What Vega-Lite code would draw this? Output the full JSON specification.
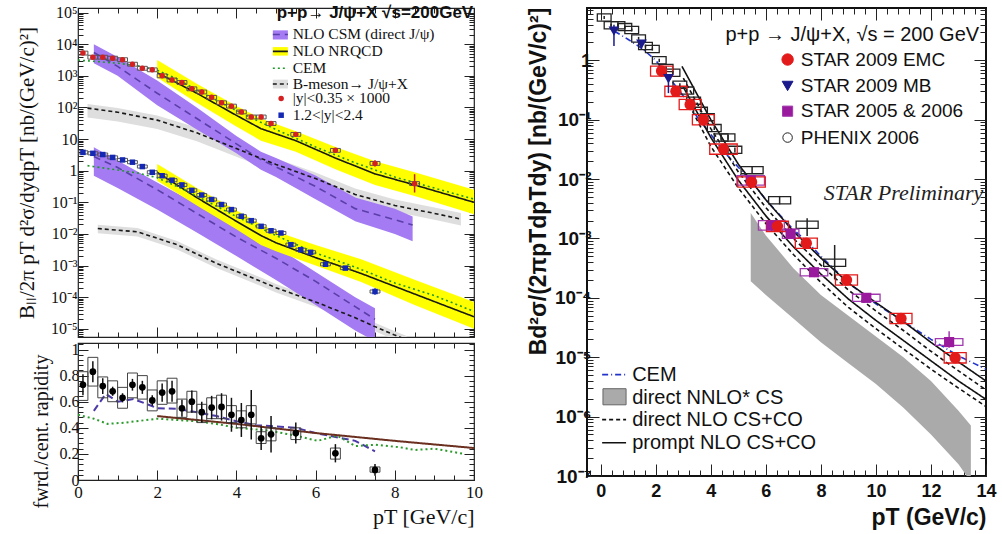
{
"$schema": "https://vega.github.io/schema/vega-lite/v6.json",
"background": "white",
"padding": {"left": 15, "top": 0, "right": 0, "bottom": 0},
"datasets": {
"lt_pts": [
{"s":"c","x":0.125,"v":5250,"el":4860,"eh":5670,"sl":4570,"sh":6040,"xl":0,"xh":0.25},
{"s":"c","x":0.375,"v":3890,"el":3600,"eh":4200,"sl":3380,"sh":4470,"xl":0.25,"xh":0.5},
{"s":"c","x":0.625,"v":3890,"el":3600,"eh":4200,"sl":3380,"sh":4470,"xl":0.5,"xh":0.75},
{"s":"c","x":0.875,"v":3630,"el":3360,"eh":3920,"sl":3160,"sh":4170,"xl":0.75,"xh":1.0},
{"s":"c","x":1.125,"v":3240,"el":3000,"eh":3500,"sl":2820,"sh":3730,"xl":1.0,"xh":1.25},
{"s":"c","x":1.375,"v":2340,"el":2170,"eh":2530,"sl":2030,"sh":2690,"xl":1.25,"xh":1.5},
{"s":"c","x":1.625,"v":1740,"el":1610,"eh":1880,"sl":1510,"sh":2000,"xl":1.5,"xh":1.75},
{"s":"c","x":1.875,"v":1550,"el":1440,"eh":1670,"sl":1350,"sh":1780,"xl":1.75,"xh":2.0},
{"s":"c","x":2.125,"v":1000,"el":926,"eh":1080,"sl":870,"sh":1150,"xl":2.0,"xh":2.25},
{"s":"c","x":2.375,"v":741,"el":686,"eh":800,"sl":644,"sh":852,"xl":2.25,"xh":2.5},
{"s":"c","x":2.625,"v":617,"el":571,"eh":666,"sl":537,"sh":710,"xl":2.5,"xh":2.75},
{"s":"c","x":2.875,"v":389,"el":360,"eh":420,"sl":338,"sh":447,"xl":2.75,"xh":3.0},
{"s":"c","x":3.125,"v":309,"el":286,"eh":334,"sl":269,"sh":355,"xl":3.0,"xh":3.25},
{"s":"c","x":3.375,"v":209,"el":194,"eh":226,"sl":182,"sh":240,"xl":3.25,"xh":3.5},
{"s":"c","x":3.625,"v":141,"el":130,"eh":152,"sl":123,"sh":162,"xl":3.5,"xh":3.75},
{"s":"c","x":3.875,"v":110,"el":102,"eh":119,"sl":96,"sh":127,"xl":3.75,"xh":4.0},
{"s":"c","x":4.125,"v":72,"el":66,"eh":78,"sl":63,"sh":83,"xl":4.0,"xh":4.25},
{"s":"c","x":4.375,"v":50,"el":45,"eh":55,"sl":43.5,"sh":57.5,"xl":4.25,"xh":4.5},
{"s":"c","x":4.625,"v":50,"el":45,"eh":56,"sl":43.5,"sh":57.5,"xl":4.5,"xh":4.75},
{"s":"c","x":4.875,"v":31,"el":27.5,"eh":35,"sl":27,"sh":35.7,"xl":4.75,"xh":5.0},
{"s":"c","x":5.5,"v":14.1,"el":12.2,"eh":16.2,"sl":12.3,"sh":16.2,"xl":5.375,"xh":5.625},
{"s":"c","x":6.5,"v":4.4,"el":3.75,"eh":5.2,"sl":3.83,"sh":5.06,"xl":6.375,"xh":6.625},
{"s":"c","x":7.5,"v":1.7,"el":1.35,"eh":2.15,"sl":1.48,"sh":1.96,"xl":7.375,"xh":7.625},
{"s":"c","x":8.5,"v":0.39,"el":0.204,"eh":0.776,"sl":0.34,"sh":0.45,"xl":8.375,"xh":8.625},
{"s":"f","x":0.125,"v":3.80,"el":3.62,"eh":3.99,"sl":3.39,"sh":4.26,"xl":0,"xh":0.25},
{"s":"f","x":0.375,"v":3.55,"el":3.38,"eh":3.73,"sl":3.17,"sh":3.98,"xl":0.25,"xh":0.5},
{"s":"f","x":0.625,"v":3.24,"el":3.09,"eh":3.40,"sl":2.89,"sh":3.63,"xl":0.5,"xh":0.75},
{"s":"f","x":0.875,"v":2.63,"el":2.5,"eh":2.76,"sl":2.35,"sh":2.95,"xl":0.75,"xh":1.0},
{"s":"f","x":1.125,"v":2.19,"el":2.09,"eh":2.3,"sl":1.96,"sh":2.45,"xl":1.0,"xh":1.25},
{"s":"f","x":1.375,"v":1.86,"el":1.77,"eh":1.95,"sl":1.66,"sh":2.08,"xl":1.25,"xh":1.5},
{"s":"f","x":1.625,"v":1.35,"el":1.29,"eh":1.42,"sl":1.21,"sh":1.51,"xl":1.5,"xh":1.75},
{"s":"f","x":1.875,"v":0.891,"el":0.849,"eh":0.936,"sl":0.796,"sh":0.998,"xl":1.75,"xh":2.0},
{"s":"f","x":2.125,"v":0.692,"el":0.659,"eh":0.727,"sl":0.618,"sh":0.775,"xl":2.0,"xh":2.25},
{"s":"f","x":2.375,"v":0.501,"el":0.477,"eh":0.526,"sl":0.447,"sh":0.561,"xl":2.25,"xh":2.5},
{"s":"f","x":2.625,"v":0.355,"el":0.338,"eh":0.373,"sl":0.317,"sh":0.398,"xl":2.5,"xh":2.75},
{"s":"f","x":2.875,"v":0.240,"el":0.229,"eh":0.252,"sl":0.214,"sh":0.269,"xl":2.75,"xh":3.0},
{"s":"f","x":3.125,"v":0.170,"el":0.162,"eh":0.179,"sl":0.152,"sh":0.190,"xl":3.0,"xh":3.25},
{"s":"f","x":3.375,"v":0.123,"el":0.117,"eh":0.129,"sl":0.110,"sh":0.138,"xl":3.25,"xh":3.5},
{"s":"f","x":3.625,"v":0.0851,"el":0.081,"eh":0.0894,"sl":0.076,"sh":0.0953,"xl":3.5,"xh":3.75},
{"s":"f","x":3.875,"v":0.0589,"el":0.0561,"eh":0.0618,"sl":0.0526,"sh":0.066,"xl":3.75,"xh":4.0},
{"s":"f","x":4.125,"v":0.0363,"el":0.0346,"eh":0.0381,"sl":0.0324,"sh":0.0407,"xl":4.0,"xh":4.25},
{"s":"f","x":4.375,"v":0.0263,"el":0.025,"eh":0.0276,"sl":0.0235,"sh":0.0295,"xl":4.25,"xh":4.5},
{"s":"f","x":4.625,"v":0.0174,"el":0.0166,"eh":0.0183,"sl":0.0155,"sh":0.0195,"xl":4.5,"xh":4.75},
{"s":"f","x":4.875,"v":0.0126,"el":0.012,"eh":0.0132,"sl":0.0113,"sh":0.0141,"xl":4.75,"xh":5.0},
{"s":"f","x":5.125,"v":0.0107,"el":0.0102,"eh":0.0112,"sl":0.0096,"sh":0.012,"xl":5.0,"xh":5.25},
{"s":"f","x":5.375,"v":0.00457,"el":0.00435,"eh":0.0048,"sl":0.00408,"sh":0.00512,"xl":5.25,"xh":5.5},
{"s":"f","x":5.625,"v":0.00316,"el":0.003,"eh":0.00332,"sl":0.00282,"sh":0.00354,"xl":5.5,"xh":5.75},
{"s":"f","x":5.875,"v":0.00263,"el":0.0025,"eh":0.00276,"sl":0.00235,"sh":0.00295,"xl":5.75,"xh":6.0},
{"s":"f","x":6.25,"v":0.0011,"el":0.00101,"eh":0.0012,"sl":0.00098,"sh":0.00123,"xl":6.125,"xh":6.375},
{"s":"f","x":6.75,"v":0.000832,"el":0.00076,"eh":0.00091,"sl":0.000743,"sh":0.000932,"xl":6.625,"xh":6.875},
{"s":"f","x":7.5,"v":0.000151,"el":0.00012,"eh":0.00019,"sl":0.000135,"sh":0.000169,"xl":7.375,"xh":7.625}
],
"lt_bands": [
{"k":"bmeson","b":"bc","x":0.24,"lo":47.9,"hi":129},{"k":"bmeson","b":"bc","x":1,"lo":36.3,"hi":95.5},{"k":"bmeson","b":"bc","x":2,"lo":20.9,"hi":56.2},{"k":"bmeson","b":"bc","x":3,"lo":8.51,"hi":23.4},{"k":"bmeson","b":"bc","x":4,"lo":2.75,"hi":7.59},{"k":"bmeson","b":"bc","x":5,"lo":0.891,"hi":2.45},{"k":"bmeson","b":"bc","x":6,"lo":0.339,"hi":0.871},{"k":"bmeson","b":"bc","x":7,"lo":0.11,"hi":0.275},{"k":"bmeson","b":"bc","x":8,"lo":0.0501,"hi":0.123},{"k":"bmeson","b":"bc","x":9,"lo":0.0282,"hi":0.0692},{"k":"bmeson","b":"bc","x":9.67,"lo":0.0186,"hi":0.0457},
{"k":"bmeson","b":"bf","x":0.5,"lo":0.0105,"hi":0.0195},{"k":"bmeson","b":"bf","x":1.5,"lo":0.00832,"hi":0.0155},{"k":"bmeson","b":"bf","x":2.5,"lo":0.00324,"hi":0.00603},{"k":"bmeson","b":"bf","x":3.5,"lo":0.000832,"hi":0.00155},{"k":"bmeson","b":"bf","x":4.62,"lo":0.000224,"hi":0.000417},{"k":"bmeson","b":"bf","x":5,"lo":0.000141,"hi":0.000263},{"k":"bmeson","b":"bf","x":6,"lo":0.0000501,"hi":0.0000933},{"k":"bmeson","b":"bf","x":7,"lo":0.0000158,"hi":0.0000295},{"k":"bmeson","b":"bf","x":7.5,"lo":0.00000832,"hi":0.0000155},{"k":"bmeson","b":"bf","x":8,"lo":0.00000447,"hi":0.00000832},{"k":"bmeson","b":"bf","x":8.3,"lo":0.00000316,"hi":0.00000589},
{"k":"csm","b":"cc","x":0.4,"lo":2512,"hi":10000},{"k":"csm","b":"cc","x":1,"lo":1000,"hi":3981},{"k":"csm","b":"cc","x":2,"lo":117,"hi":708},{"k":"csm","b":"cc","x":3,"lo":20,"hi":100},{"k":"csm","b":"cc","x":4,"lo":3.55,"hi":12.6},{"k":"csm","b":"cc","x":4.62,"lo":1.07,"hi":3.98},{"k":"csm","b":"cc","x":5,"lo":0.631,"hi":2.51},{"k":"csm","b":"cc","x":6,"lo":0.126,"hi":0.708},{"k":"csm","b":"cc","x":7,"lo":0.0251,"hi":0.141},{"k":"csm","b":"cc","x":8,"lo":0.01,"hi":0.0631},{"k":"csm","b":"cc","x":8.45,"lo":0.00589,"hi":0.0355},
{"k":"csm","b":"cf","x":0.4,"lo":0.692,"hi":5.5},{"k":"csm","b":"cf","x":1,"lo":0.282,"hi":2.09},{"k":"csm","b":"cf","x":2,"lo":0.0589,"hi":0.427},{"k":"csm","b":"cf","x":3,"lo":0.0112,"hi":0.0891},{"k":"csm","b":"cf","x":4,"lo":0.002,"hi":0.02},{"k":"csm","b":"cf","x":5,"lo":0.000347,"hi":0.00398},{"k":"csm","b":"cf","x":6,"lo":0.0000562,"hi":0.000631},{"k":"csm","b":"cf","x":7,"lo":0.00000891,"hi":0.0001},{"k":"csm","b":"cf","x":7.5,"lo":0.00000398,"hi":0.0000447},
{"k":"nrqcd","b":"nc","x":2,"lo":891,"hi":3162},{"k":"nrqcd","b":"nc","x":3,"lo":141,"hi":562},{"k":"nrqcd","b":"nc","x":4,"lo":25.1,"hi":112},{"k":"nrqcd","b":"nc","x":4.62,"lo":8.91,"hi":44.7},{"k":"nrqcd","b":"nc","x":5.5,"lo":3.98,"hi":17.8},{"k":"nrqcd","b":"nc","x":6.5,"lo":1.12,"hi":5.62},{"k":"nrqcd","b":"nc","x":7.5,"lo":0.355,"hi":2.0},{"k":"nrqcd","b":"nc","x":8.5,"lo":0.158,"hi":0.891},{"k":"nrqcd","b":"nc","x":10,"lo":0.0417,"hi":0.251},
{"k":"nrqcd","b":"nf","x":2,"lo":0.479,"hi":1.62},{"k":"nrqcd","b":"nf","x":3,"lo":0.0794,"hi":0.282},{"k":"nrqcd","b":"nf","x":4,"lo":0.0141,"hi":0.0562},{"k":"nrqcd","b":"nf","x":4.62,"lo":0.00447,"hi":0.02},{"k":"nrqcd","b":"nf","x":5,"lo":0.00282,"hi":0.012},{"k":"nrqcd","b":"nf","x":6,"lo":0.001,"hi":0.00447},{"k":"nrqcd","b":"nf","x":7.15,"lo":0.000302,"hi":0.00158},{"k":"nrqcd","b":"nf","x":8.5,"lo":0.0000562,"hi":0.000355},{"k":"nrqcd","b":"nf","x":10,"lo":0.00001,"hi":0.0000708}
],
"lt_lines": [
{"k":"csm","b":"cc","x":0.4,"v":5495},{"k":"csm","b":"cc","x":1,"v":1995},{"k":"csm","b":"cc","x":2,"v":282},{"k":"csm","b":"cc","x":3,"v":44.7},{"k":"csm","b":"cc","x":4,"v":7.08},{"k":"csm","b":"cc","x":4.62,"v":2.24},{"k":"csm","b":"cc","x":5,"v":1.32},{"k":"csm","b":"cc","x":6,"v":0.316},{"k":"csm","b":"cc","x":7,"v":0.0631},{"k":"csm","b":"cc","x":8,"v":0.0282},{"k":"csm","b":"cc","x":8.45,"v":0.0191},
{"k":"csm","b":"cf","x":0.4,"v":2.82},{"k":"csm","b":"cf","x":1,"v":1.26},{"k":"csm","b":"cf","x":2,"v":0.251},{"k":"csm","b":"cf","x":3,"v":0.0447},{"k":"csm","b":"cf","x":4,"v":0.00794},{"k":"csm","b":"cf","x":5,"v":0.0017},{"k":"csm","b":"cf","x":6,"v":0.000316},{"k":"csm","b":"cf","x":7,"v":0.0000501},{"k":"csm","b":"cf","x":7.5,"v":0.00002},
{"k":"nrqcd","b":"nc","x":2,"v":1259},{"k":"nrqcd","b":"nc","x":3,"v":282},{"k":"nrqcd","b":"nc","x":4,"v":56.2},{"k":"nrqcd","b":"nc","x":4.62,"v":21.4},{"k":"nrqcd","b":"nc","x":5.5,"v":8.91},{"k":"nrqcd","b":"nc","x":6.5,"v":2.51},{"k":"nrqcd","b":"nc","x":7.5,"v":0.794},{"k":"nrqcd","b":"nc","x":8.5,"v":0.355},{"k":"nrqcd","b":"nc","x":10,"v":0.1},
{"k":"nrqcd","b":"nf","x":2,"v":0.891},{"k":"nrqcd","b":"nf","x":3,"v":0.141},{"k":"nrqcd","b":"nf","x":4,"v":0.0251},{"k":"nrqcd","b":"nf","x":4.62,"v":0.00891},{"k":"nrqcd","b":"nf","x":5,"v":0.00525},{"k":"nrqcd","b":"nf","x":6,"v":0.00178},{"k":"nrqcd","b":"nf","x":7.15,"v":0.000562},{"k":"nrqcd","b":"nf","x":8.5,"v":0.000126},{"k":"nrqcd","b":"nf","x":10,"v":0.000024},
{"k":"cem","b":"ec","x":0,"v":3162},{"k":"cem","b":"ec","x":1,"v":2512},{"k":"cem","b":"ec","x":1.5,"v":2100},{"k":"cem","b":"ec","x":2,"v":1500},{"k":"cem","b":"ec","x":2.5,"v":800},{"k":"cem","b":"ec","x":3,"v":355},{"k":"cem","b":"ec","x":4,"v":79.4},{"k":"cem","b":"ec","x":5,"v":20},{"k":"cem","b":"ec","x":6,"v":5.62},{"k":"cem","b":"ec","x":7,"v":1.78},{"k":"cem","b":"ec","x":8,"v":0.631},{"k":"cem","b":"ec","x":9,"v":0.282},{"k":"cem","b":"ec","x":10,"v":0.126},
{"k":"cem","b":"ef","x":0.24,"v":1.445},{"k":"cem","b":"ef","x":1,"v":1.047},{"k":"cem","b":"ef","x":1.5,"v":0.85},{"k":"cem","b":"ef","x":2,"v":0.6},{"k":"cem","b":"ef","x":2.5,"v":0.32},{"k":"cem","b":"ef","x":3,"v":0.158},{"k":"cem","b":"ef","x":4,"v":0.0355},{"k":"cem","b":"ef","x":5,"v":0.00891},{"k":"cem","b":"ef","x":6,"v":0.00251},{"k":"cem","b":"ef","x":7,"v":0.000891},{"k":"cem","b":"ef","x":8,"v":0.000282},{"k":"cem","b":"ef","x":9,"v":0.000112},{"k":"cem","b":"ef","x":10,"v":0.0000355},
{"k":"bmeson","b":"bc","x":0.24,"v":95.5},{"k":"bmeson","b":"bc","x":1,"v":70.8},{"k":"bmeson","b":"bc","x":2,"v":39.8},{"k":"bmeson","b":"bc","x":3,"v":15.8},{"k":"bmeson","b":"bc","x":4,"v":5.01},{"k":"bmeson","b":"bc","x":5,"v":1.58},{"k":"bmeson","b":"bc","x":6,"v":0.562},{"k":"bmeson","b":"bc","x":7,"v":0.178},{"k":"bmeson","b":"bc","x":8,"v":0.0794},{"k":"bmeson","b":"bc","x":9,"v":0.0447},{"k":"bmeson","b":"bc","x":9.67,"v":0.0295},
{"k":"bmeson","b":"bf","x":0.5,"v":0.0148},{"k":"bmeson","b":"bf","x":1.5,"v":0.0117},{"k":"bmeson","b":"bf","x":2.5,"v":0.00457},{"k":"bmeson","b":"bf","x":3.5,"v":0.00117},{"k":"bmeson","b":"bf","x":4.62,"v":0.000316},{"k":"bmeson","b":"bf","x":5,"v":0.0002},{"k":"bmeson","b":"bf","x":6,"v":0.0000708},{"k":"bmeson","b":"bf","x":7,"v":0.0000224},{"k":"bmeson","b":"bf","x":7.5,"v":0.0000117},{"k":"bmeson","b":"bf","x":8,"v":0.00000631},{"k":"bmeson","b":"bf","x":8.3,"v":0.00000447}
],
"lt_leg": [
{"k":"csm","x1":4.92,"x2":5.30,"yl":14100,"yh":27500,"y":20400,"tx":5.42,"label":"NLO CSM (direct J/ψ)"},
{"k":"nrqcd","x1":4.92,"x2":5.30,"yl":4370,"yh":8130,"y":5960,"tx":5.42,"label":"NLO NRQCD"},
{"k":"cem","x1":4.92,"x2":5.30,"y":1740,"tx":5.42,"label":"CEM"},
{"k":"bmeson","x1":4.92,"x2":5.30,"yl":398,"yh":759,"y":555,"tx":5.42,"label":"B-meson→ J/ψ+X"},
{"k":"c","mx":5.13,"y":193,"tx":5.42,"label":"|y|<0.35 × 1000"},
{"k":"f","mx":5.13,"y":56.9,"tx":5.42,"label":"1.2<|y|<2.4"}
],
"lt_title": [{"x":9.98,"y":97700,"label":"p+p→ J/ψ+X √s=200GeV"}],
"lb_pts": [
{"x":0.125,"v":0.73,"el":0.65,"eh":0.81,"sl":0.61,"sh":0.83,"xl":0,"xh":0.25},
{"x":0.375,"v":0.83,"el":0.75,"eh":0.91,"sl":0.72,"sh":0.94,"xl":0.25,"xh":0.5},
{"x":0.625,"v":0.72,"el":0.66,"eh":0.78,"sl":0.63,"sh":0.79,"xl":0.5,"xh":0.75},
{"x":0.875,"v":0.68,"el":0.645,"eh":0.715,"sl":0.60,"sh":0.76,"xl":0.75,"xh":1.0},
{"x":1.125,"v":0.63,"el":0.595,"eh":0.665,"sl":0.55,"sh":0.71,"xl":1.0,"xh":1.25},
{"x":1.375,"v":0.73,"el":0.685,"eh":0.775,"sl":0.63,"sh":0.82,"xl":1.25,"xh":1.5},
{"x":1.625,"v":0.71,"el":0.66,"eh":0.76,"sl":0.62,"sh":0.80,"xl":1.5,"xh":1.75},
{"x":1.875,"v":0.61,"el":0.57,"eh":0.65,"sl":0.53,"sh":0.69,"xl":1.75,"xh":2.0},
{"x":2.125,"v":0.67,"el":0.60,"eh":0.74,"sl":0.58,"sh":0.76,"xl":2.0,"xh":2.25},
{"x":2.375,"v":0.68,"el":0.60,"eh":0.76,"sl":0.59,"sh":0.78,"xl":2.25,"xh":2.5},
{"x":2.625,"v":0.55,"el":0.485,"eh":0.615,"sl":0.48,"sh":0.62,"xl":2.5,"xh":2.75},
{"x":2.875,"v":0.60,"el":0.515,"eh":0.685,"sl":0.52,"sh":0.68,"xl":2.75,"xh":3.0},
{"x":3.125,"v":0.52,"el":0.44,"eh":0.60,"sl":0.44,"sh":0.58,"xl":3.0,"xh":3.25},
{"x":3.375,"v":0.555,"el":0.465,"eh":0.645,"sl":0.47,"sh":0.63,"xl":3.25,"xh":3.5},
{"x":3.625,"v":0.56,"el":0.455,"eh":0.665,"sl":0.47,"sh":0.65,"xl":3.5,"xh":3.75},
{"x":3.875,"v":0.50,"el":0.37,"eh":0.63,"sl":0.44,"sh":0.57,"xl":3.75,"xh":4.0},
{"x":4.125,"v":0.46,"el":0.33,"eh":0.59,"sl":0.40,"sh":0.53,"xl":4.0,"xh":4.25},
{"x":4.375,"v":0.50,"el":0.31,"eh":0.69,"sl":0.43,"sh":0.57,"xl":4.25,"xh":4.5},
{"x":4.625,"v":0.32,"el":0.23,"eh":0.41,"sl":0.28,"sh":0.37,"xl":4.5,"xh":4.75},
{"x":4.875,"v":0.35,"el":0.21,"eh":0.49,"sl":0.30,"sh":0.40,"xl":4.75,"xh":5.0},
{"x":5.5,"v":0.36,"el":0.28,"eh":0.44,"sl":0.31,"sh":0.40,"xl":5.375,"xh":5.625},
{"x":6.5,"v":0.205,"el":0.135,"eh":0.275,"sl":0.16,"sh":0.245,"xl":6.375,"xh":6.625},
{"x":7.5,"v":0.077,"el":0.032,"eh":0.122,"sl":0.06,"sh":0.10,"xl":7.375,"xh":7.625}
],
"lb_lines": [
{"k":"csm","x":0.4,"v":0.53},{"k":"csm","x":0.7,"v":0.66},{"k":"csm","x":1.0,"v":0.60},{"k":"csm","x":1.4,"v":0.62},{"k":"csm","x":1.8,"v":0.575},{"k":"csm","x":2.0,"v":0.55},{"k":"csm","x":2.5,"v":0.545},{"k":"csm","x":3.0,"v":0.52},{"k":"csm","x":3.5,"v":0.49},{"k":"csm","x":4.0,"v":0.45},{"k":"csm","x":4.5,"v":0.42},{"k":"csm","x":5.0,"v":0.41},{"k":"csm","x":5.5,"v":0.40},{"k":"csm","x":6.0,"v":0.36},{"k":"csm","x":6.5,"v":0.33},{"k":"csm","x":7.0,"v":0.30},{"k":"csm","x":7.5,"v":0.22},
{"k":"cem","x":0,"v":0.50},{"k":"cem","x":0.4,"v":0.47},{"k":"cem","x":0.75,"v":0.43},{"k":"cem","x":1.2,"v":0.44},{"k":"cem","x":2.0,"v":0.47},{"k":"cem","x":2.5,"v":0.46},{"k":"cem","x":3.0,"v":0.45},{"k":"cem","x":3.5,"v":0.43},{"k":"cem","x":4.0,"v":0.40},{"k":"cem","x":4.8,"v":0.38},{"k":"cem","x":5.5,"v":0.34},{"k":"cem","x":6.05,"v":0.30},{"k":"cem","x":6.55,"v":0.34},{"k":"cem","x":7.0,"v":0.26},{"k":"cem","x":7.5,"v":0.27},{"k":"cem","x":8.15,"v":0.25},{"k":"cem","x":8.5,"v":0.23},{"k":"cem","x":9.0,"v":0.24},{"k":"cem","x":9.75,"v":0.20},
{"k":"nrqcd","x":2,"v":0.49},{"k":"nrqcd","x":4,"v":0.43},{"k":"nrqcd","x":6,"v":0.36},{"k":"nrqcd","x":8,"v":0.30},{"k":"nrqcd","x":10,"v":0.245}
],
"r_pts": [
{"s":"phenix","x":0.125,"v":5.25,"el":4.95,"eh":5.57,"sl":4.57,"sh":6.04,"xl":-0.125,"xh":0.375},
{"s":"phenix","x":0.375,"v":3.89,"el":3.67,"eh":4.12,"sl":3.38,"sh":4.47,"xl":0.125,"xh":0.625},
{"s":"phenix","x":0.625,"v":3.89,"el":3.67,"eh":4.12,"sl":3.38,"sh":4.47,"xl":0.375,"xh":0.875},
{"s":"phenix","x":0.875,"v":3.63,"el":3.42,"eh":3.85,"sl":3.16,"sh":4.17,"xl":0.625,"xh":1.125},
{"s":"phenix","x":1.125,"v":3.24,"el":3.06,"eh":3.43,"sl":2.82,"sh":3.73,"xl":0.875,"xh":1.375},
{"s":"phenix","x":1.375,"v":2.34,"el":2.21,"eh":2.48,"sl":2.03,"sh":2.69,"xl":1.125,"xh":1.625},
{"s":"phenix","x":1.625,"v":1.74,"el":1.64,"eh":1.84,"sl":1.51,"sh":2.0,"xl":1.375,"xh":1.875},
{"s":"phenix","x":1.875,"v":1.55,"el":1.46,"eh":1.64,"sl":1.35,"sh":1.78,"xl":1.625,"xh":2.125},
{"s":"phenix","x":2.125,"v":1.0,"el":0.94,"eh":1.06,"sl":0.87,"sh":1.15,"xl":1.875,"xh":2.375},
{"s":"phenix","x":2.375,"v":0.741,"el":0.70,"eh":0.785,"sl":0.644,"sh":0.852,"xl":2.125,"xh":2.625},
{"s":"phenix","x":2.625,"v":0.617,"el":0.58,"eh":0.655,"sl":0.537,"sh":0.71,"xl":2.375,"xh":2.875},
{"s":"phenix","x":2.875,"v":0.389,"el":0.367,"eh":0.412,"sl":0.338,"sh":0.447,"xl":2.625,"xh":3.125},
{"s":"phenix","x":3.125,"v":0.309,"el":0.29,"eh":0.328,"sl":0.269,"sh":0.355,"xl":2.875,"xh":3.375},
{"s":"phenix","x":3.375,"v":0.209,"el":0.197,"eh":0.222,"sl":0.182,"sh":0.24,"xl":3.125,"xh":3.625},
{"s":"phenix","x":3.625,"v":0.141,"el":0.133,"eh":0.15,"sl":0.123,"sh":0.162,"xl":3.375,"xh":3.875},
{"s":"phenix","x":3.875,"v":0.11,"el":0.103,"eh":0.117,"sl":0.096,"sh":0.127,"xl":3.625,"xh":4.125},
{"s":"phenix","x":4.125,"v":0.072,"el":0.067,"eh":0.077,"sl":0.063,"sh":0.083,"xl":3.875,"xh":4.375},
{"s":"phenix","x":4.375,"v":0.05,"el":0.046,"eh":0.054,"sl":0.0435,"sh":0.0575,"xl":4.125,"xh":4.625},
{"s":"phenix","x":4.625,"v":0.05,"el":0.046,"eh":0.055,"sl":0.0435,"sh":0.0575,"xl":4.375,"xh":4.875},
{"s":"phenix","x":4.875,"v":0.031,"el":0.028,"eh":0.034,"sl":0.027,"sh":0.0357,"xl":4.625,"xh":5.125},
{"s":"phenix","x":5.5,"v":0.0141,"el":0.0122,"eh":0.0162,"sl":0.0123,"sh":0.0162,"xl":5.1,"xh":5.9},
{"s":"phenix","x":6.5,"v":0.0044,"el":0.00375,"eh":0.0052,"sl":0.00383,"sh":0.00506,"xl":6.1,"xh":6.9},
{"s":"phenix","x":7.5,"v":0.0017,"el":0.0011,"eh":0.0022,"sl":0.00148,"sh":0.00196,"xl":7.1,"xh":7.9},
{"s":"phenix","x":8.5,"v":0.00039,"el":0.000204,"eh":0.000776,"sl":0.00034,"sh":0.00045,"xl":8.1,"xh":8.9},
{"s":"s05","x":5.45,"v":0.0095,"el":0.0087,"eh":0.0104,"sl":0.0079,"sh":0.0114,"xl":4.95,"xh":5.95},
{"s":"s05","x":6.2,"v":0.00166,"el":0.00151,"eh":0.00183,"sl":0.00138,"sh":0.002,"xl":5.73,"xh":6.67},
{"s":"s05","x":6.9,"v":0.0012,"el":0.00109,"eh":0.00132,"sl":0.001,"sh":0.00144,"xl":6.6,"xh":7.2},
{"s":"s05","x":7.75,"v":0.00027,"el":0.000245,"eh":0.000297,"sl":0.000235,"sh":0.00031,"xl":7.25,"xh":8.25},
{"s":"s05","x":9.65,"v":0.0001,"el":0.000091,"eh":0.00011,"sl":0.000087,"sh":0.000115,"xl":9.15,"xh":10.15},
{"s":"s05","x":12.66,"v":0.000018,"el":0.0000145,"eh":0.0000275,"sl":0.0000158,"sh":0.0000205,"xl":12.16,"xh":13.16},
{"s":"emc","x":2.21,"v":0.66,"el":0.61,"eh":0.71,"sl":0.54,"sh":0.80,"xl":1.81,"xh":2.61},
{"s":"emc","x":2.73,"v":0.30,"el":0.28,"eh":0.32,"sl":0.246,"sh":0.366,"xl":2.33,"xh":3.13},
{"s":"emc","x":3.25,"v":0.18,"el":0.167,"eh":0.194,"sl":0.148,"sh":0.22,"xl":2.85,"xh":3.65},
{"s":"emc","x":3.73,"v":0.10,"el":0.093,"eh":0.108,"sl":0.082,"sh":0.122,"xl":3.33,"xh":4.13},
{"s":"emc","x":4.46,"v":0.032,"el":0.0296,"eh":0.0346,"sl":0.0262,"sh":0.039,"xl":3.96,"xh":4.96},
{"s":"emc","x":5.48,"v":0.0089,"el":0.0082,"eh":0.0096,"sl":0.0073,"sh":0.0109,"xl":4.98,"xh":5.98},
{"s":"emc","x":6.42,"v":0.0016,"el":0.00145,"eh":0.00176,"sl":0.00131,"sh":0.00195,"xl":6.02,"xh":6.82},
{"s":"emc","x":7.47,"v":0.00083,"el":0.00075,"eh":0.00092,"sl":0.00068,"sh":0.00101,"xl":7.07,"xh":7.87},
{"s":"emc","x":8.93,"v":0.0002,"el":0.00018,"eh":0.00022,"sl":0.000164,"sh":0.000244,"xl":8.53,"xh":9.33},
{"s":"emc","x":10.91,"v":0.000045,"el":0.000041,"eh":0.00005,"sl":0.0000369,"sh":0.0000549,"xl":10.51,"xh":11.31},
{"s":"emc","x":12.88,"v":0.0000098,"el":0.0000088,"eh":0.0000109,"sl":0.000008,"sh":0.000012,"xl":12.48,"xh":13.28},
{"s":"mb","x":0.48,"v":3.1,"el":1.74,"eh":3.98},
{"s":"mb","x":1.48,"v":1.86,"el":1.55,"eh":2.2},
{"s":"mb","x":2.46,"v":0.49,"el":0.28,"eh":0.575}
],
"r_band": [
{"x":5.45,"lo":0.000191,"hi":0.00269},{"x":6,"lo":0.000112,"hi":0.00112},{"x":7,"lo":0.0000447,"hi":0.000316},{"x":8,"lo":0.0000178,"hi":0.000112},{"x":9,"lo":0.00000794,"hi":0.0000501},{"x":10,"lo":0.00000355,"hi":0.0000224},{"x":11,"lo":0.00000141,"hi":0.00001},{"x":12,"lo":0.000000501,"hi":0.00000398},{"x":13,"lo":0.000000158,"hi":0.00000126},{"x":13.45,"lo":0.0000000794,"hi":0.000000708}
],
"r_lines": [
{"k":"cem","b":"cem","x":0.5,"v":3.09},{"k":"cem","b":"cem","x":1,"v":2.24},{"k":"cem","b":"cem","x":1.5,"v":1.58},{"k":"cem","b":"cem","x":2,"v":1.0},{"k":"cem","b":"cem","x":2.5,"v":0.5},{"k":"cem","b":"cem","x":3,"v":0.251},{"k":"cem","b":"cem","x":3.5,"v":0.112},{"k":"cem","b":"cem","x":4,"v":0.0562},{"k":"cem","b":"cem","x":4.5,"v":0.0282},{"k":"cem","b":"cem","x":5,"v":0.0158},{"k":"cem","b":"cem","x":5.5,"v":0.00891},{"k":"cem","b":"cem","x":6,"v":0.00447},{"k":"cem","b":"cem","x":6.5,"v":0.00251},{"k":"cem","b":"cem","x":7,"v":0.00141},{"k":"cem","b":"cem","x":7.5,"v":0.000891},{"k":"cem","b":"cem","x":8,"v":0.000501},{"k":"cem","b":"cem","x":9,"v":0.000178},{"k":"cem","b":"cem","x":10,"v":0.0000794},{"k":"cem","b":"cem","x":11,"v":0.0000398},{"k":"cem","b":"cem","x":12,"v":0.00002},{"k":"cem","b":"cem","x":13,"v":0.0000105},{"k":"cem","b":"cem","x":14,"v":0.00000631},
{"k":"prompt","b":"ph","x":2.95,"v":0.794},{"k":"prompt","b":"ph","x":4,"v":0.1},{"k":"prompt","b":"ph","x":5,"v":0.0178},{"k":"prompt","b":"ph","x":6,"v":0.00447},{"k":"prompt","b":"ph","x":7,"v":0.00132},{"k":"prompt","b":"ph","x":8,"v":0.000468},{"k":"prompt","b":"ph","x":9,"v":0.000178},{"k":"prompt","b":"ph","x":10,"v":0.0000832},{"k":"prompt","b":"ph","x":11,"v":0.0000398},{"k":"prompt","b":"ph","x":12,"v":0.0000178},{"k":"prompt","b":"ph","x":13,"v":0.00000832},{"k":"prompt","b":"ph","x":14,"v":0.00000398},
{"k":"direct","b":"dh","x":3.0,"v":0.501},{"k":"direct","b":"dh","x":4,"v":0.0708},{"k":"direct","b":"dh","x":5,"v":0.0132},{"k":"direct","b":"dh","x":6,"v":0.00331},{"k":"direct","b":"dh","x":7,"v":0.001},{"k":"direct","b":"dh","x":8,"v":0.000355},{"k":"direct","b":"dh","x":9,"v":0.000135},{"k":"direct","b":"dh","x":10,"v":0.0000603},{"k":"direct","b":"dh","x":11,"v":0.0000282},{"k":"direct","b":"dh","x":12,"v":0.0000126},{"k":"direct","b":"dh","x":13,"v":0.00000589},{"k":"direct","b":"dh","x":14,"v":0.00000282},
{"k":"prompt","b":"pl","x":3.0,"v":0.355},{"k":"prompt","b":"pl","x":4,"v":0.0501},{"k":"prompt","b":"pl","x":5,"v":0.00955},{"k":"prompt","b":"pl","x":6,"v":0.0024},{"k":"prompt","b":"pl","x":7,"v":0.000724},{"k":"prompt","b":"pl","x":8,"v":0.000251},{"k":"prompt","b":"pl","x":9,"v":0.0000955},{"k":"prompt","b":"pl","x":10,"v":0.0000417},{"k":"prompt","b":"pl","x":11,"v":0.0000191},{"k":"prompt","b":"pl","x":12,"v":0.00000871},{"k":"prompt","b":"pl","x":13,"v":0.00000398},{"k":"prompt","b":"pl","x":14,"v":0.00000195},
{"k":"direct","b":"dl","x":3.1,"v":0.224},{"k":"direct","b":"dl","x":4,"v":0.0355},{"k":"direct","b":"dl","x":5,"v":0.00708},{"k":"direct","b":"dl","x":6,"v":0.00178},{"k":"direct","b":"dl","x":7,"v":0.000537},{"k":"direct","b":"dl","x":8,"v":0.000182},{"k":"direct","b":"dl","x":9,"v":0.0000692},{"k":"direct","b":"dl","x":10,"v":0.0000302},{"k":"direct","b":"dl","x":11,"v":0.0000138},{"k":"direct","b":"dl","x":12,"v":0.00000631},{"k":"direct","b":"dl","x":13,"v":0.00000302},{"k":"direct","b":"dl","x":14,"v":0.00000148}
],
"r_leg": [
{"k":"emc","mx":6.79,"y":1.03,"tx":7.27,"label":"STAR 2009 EMC"},
{"k":"mb","mx":6.79,"y":0.37,"tx":7.27,"label":"STAR 2009 MB"},
{"k":"s05","mx":6.79,"y":0.139,"tx":7.27,"label":"STAR 2005 & 2006"},
{"k":"phenix","mx":6.79,"y":0.05,"tx":7.27,"label":"PHENIX 2006"}
],
"r_leg2": [
{"k":"cem","x1":0.05,"x2":0.92,"y":0.0000051,"tx":1.14,"label":"CEM"},
{"k":"nnlo","x1":0.08,"x2":0.92,"yl":0.00000158,"yh":0.00000295,"y":0.00000209,"tx":1.14,"label":"direct NNLO* CS"},
{"k":"direct","x1":0.05,"x2":0.92,"y":0.00000089,"tx":1.14,"label":"direct NLO CS+CO"},
{"k":"prompt","x1":0.05,"x2":0.92,"y":0.000000363,"tx":1.14,"label":"prompt NLO CS+CO"}
],
"r_txt": [
{"t":"head","x":13.75,"y":2.72,"label":"p+p → J/ψ+X,  √s = 200 GeV"},
{"t":"prelim","x":13.9,"y":0.0059,"label":"STAR Preliminary"}
]
},
"hconcat": [
{"vconcat": [
{
"width": 396, "height": 329,
"resolve": {"axis": {"x": "independent", "y": "independent"}},
"layer": [
{"data": {"name": "lt_pts"}, "mark": {"type": "point", "opacity": 0},
 "encoding": {
  "x": {"field": "x", "type": "quantitative", "scale": {"domain": [0, 10], "nice": false, "zero": false},
   "axis": {"orient": "bottom", "values": [0,0.5,1,1.5,2,2.5,3,3.5,4,4.5,5,5.5,6,6.5,7,7.5,8,8.5,9,9.5,10], "labels": false, "title": null,
    "tickSize": {"condition": {"test": "abs(datum.value/2-round(datum.value/2))<0.01", "value": -10}, "value": -5}}},
  "y": {"field": "v", "type": "quantitative", "scale": {"type": "log", "domain": [0.0000055, 140000], "nice": false},
   "axis": {"orient": "left", "tickCount": 50, "labelOverlap": false, "labelFont": "Liberation Serif", "labelFontSize": 16, "labelPadding": 11,
    "labelExpr": "abs(log(datum.value)/LN10 - round(log(datum.value)/LN10)) > 0.01 ? '' : ['10⁻⁷','10⁻⁶','10⁻⁵','10⁻⁴','10⁻³','10⁻²','10⁻¹','1','10','10²','10³','10⁴','10⁵','10⁶'][round(log(datum.value)/LN10)+7]",
    "tickSize": {"condition": {"test": "abs(log(datum.value)/LN10 - round(log(datum.value)/LN10)) < 0.01", "value": -10}, "value": -5},
    "title": "Bₗₗ/2π pT d²σ/dydpT   [nb/(GeV/c)²]", "titleFont": "Liberation Serif", "titleFontSize": 21, "titleFontWeight": "normal", "titlePadding": 13}}
 }},
{"data": {"name": "lt_pts"}, "mark": {"type": "point", "opacity": 0},
 "encoding": {
  "x": {"field": "x", "type": "quantitative",
   "axis": {"orient": "top", "values": [0,0.5,1,1.5,2,2.5,3,3.5,4,4.5,5,5.5,6,6.5,7,7.5,8,8.5,9,9.5,10], "labels": false, "title": null,
    "tickSize": {"condition": {"test": "abs(datum.value/2-round(datum.value/2))<0.01", "value": -10}, "value": -5}}},
  "y": {"field": "v", "type": "quantitative",
   "axis": {"orient": "right", "tickCount": 50, "labels": false, "title": null,
    "tickSize": {"condition": {"test": "abs(log(datum.value)/LN10 - round(log(datum.value)/LN10)) < 0.01", "value": -10}, "value": -5}}}
 }},
{"data": {"name": "lt_bands"}, "transform": [{"filter": "datum.k == 'bmeson'"}], "mark": {"type": "area", "clip": true},
 "encoding": {"x": {"field": "x", "type": "quantitative", "axis": null}, "y": {"field": "lo", "type": "quantitative", "axis": null}, "y2": {"field": "hi"},
  "fill": {"field": "k", "type": "nominal", "scale": {"domain": ["csm","nrqcd","bmeson","c","f"], "range": ["#a47bf3","#ffff00","#dedede","#d42020","#1428b4"]}, "legend": null},
  "detail": {"field": "b"}}},
{"data": {"name": "lt_bands"}, "transform": [{"filter": "datum.k == 'csm'"}], "mark": {"type": "area", "clip": true},
 "encoding": {"x": {"field": "x", "type": "quantitative", "axis": null}, "y": {"field": "lo", "type": "quantitative", "axis": null}, "y2": {"field": "hi"},
  "fill": {"field": "k", "type": "nominal", "legend": null}, "detail": {"field": "b"}}},
{"data": {"name": "lt_bands"}, "transform": [{"filter": "datum.k == 'nrqcd'"}], "mark": {"type": "area", "clip": true},
 "encoding": {"x": {"field": "x", "type": "quantitative", "axis": null}, "y": {"field": "lo", "type": "quantitative", "axis": null}, "y2": {"field": "hi"},
  "fill": {"field": "k", "type": "nominal", "legend": null}, "detail": {"field": "b"}}},
{"data": {"name": "lt_lines"}, "mark": {"type": "line", "clip": true, "strokeWidth": 1.6},
 "encoding": {"x": {"field": "x", "type": "quantitative", "axis": null}, "y": {"field": "v", "type": "quantitative", "axis": null},
  "stroke": {"field": "k", "type": "nominal", "scale": {"domain": ["csm","nrqcd","cem","bmeson","c","f"], "range": ["#5a3fa8","#1a1a1a","#1f9a2a","#1a1a1a","#c41e1e","#1a2a9a"]}, "legend": null},
  "strokeDash": {"field": "k", "type": "nominal", "scale": {"domain": ["csm","nrqcd","cem","bmeson"], "range": [[7,5],[1,0],[2,3],[4,3]]}, "legend": null},
  "detail": {"field": "b"}}},
{"data": {"name": "lt_pts"}, "mark": {"type": "rect", "fillOpacity": 0, "stroke": "#555555", "strokeWidth": 1, "clip": true},
 "encoding": {"x": {"field": "xl", "type": "quantitative", "axis": null}, "x2": {"field": "xh"}, "y": {"field": "sl", "type": "quantitative", "axis": null}, "y2": {"field": "sh"}}},
{"data": {"name": "lt_pts"}, "mark": {"type": "rule", "clip": true, "strokeWidth": 1.5},
 "encoding": {"x": {"field": "x", "type": "quantitative", "axis": null}, "y": {"field": "el", "type": "quantitative", "axis": null}, "y2": {"field": "eh"},
  "stroke": {"field": "s", "type": "nominal", "legend": null}}},
{"data": {"name": "lt_pts"}, "mark": {"type": "point", "filled": true, "opacity": 1, "size": 30, "clip": true},
 "encoding": {"x": {"field": "x", "type": "quantitative", "axis": null}, "y": {"field": "v", "type": "quantitative", "axis": null},
  "fill": {"field": "s", "type": "nominal", "legend": null},
  "shape": {"field": "s", "type": "nominal", "scale": {"domain": ["c","f"], "range": ["circle","square"]}, "legend": null}}},
{"data": {"name": "lt_leg"}, "transform": [{"filter": "isValid(datum.yl)"}], "mark": {"type": "rect"},
 "encoding": {"x": {"field": "x1", "type": "quantitative", "axis": null}, "x2": {"field": "x2"}, "y": {"field": "yl", "type": "quantitative", "axis": null}, "y2": {"field": "yh"},
  "fill": {"field": "k", "type": "nominal", "legend": null}}},
{"data": {"name": "lt_leg"}, "transform": [{"filter": "isValid(datum.x1)"}], "mark": {"type": "rule", "strokeWidth": 1.6},
 "encoding": {"x": {"field": "x1", "type": "quantitative", "axis": null}, "x2": {"field": "x2"}, "y": {"field": "y", "type": "quantitative", "axis": null},
  "stroke": {"field": "k", "type": "nominal", "legend": null}, "strokeDash": {"field": "k", "type": "nominal", "legend": null}}},
{"data": {"name": "lt_leg"}, "transform": [{"filter": "isValid(datum.mx)"}], "mark": {"type": "point", "filled": true, "opacity": 1, "size": 30},
 "encoding": {"x": {"field": "mx", "type": "quantitative", "axis": null}, "y": {"field": "y", "type": "quantitative", "axis": null},
  "fill": {"field": "k", "type": "nominal", "legend": null}, "shape": {"field": "k", "type": "nominal", "legend": null}}},
{"data": {"name": "lt_leg"}, "mark": {"type": "text", "align": "left", "baseline": "middle", "font": "Liberation Serif", "fontSize": 15.5, "color": "#111"},
 "encoding": {"x": {"field": "tx", "type": "quantitative", "axis": null}, "y": {"field": "y", "type": "quantitative", "axis": null}, "text": {"field": "label"}}},
{"data": {"name": "lt_title"}, "mark": {"type": "text", "align": "right", "baseline": "middle", "font": "Liberation Sans", "fontWeight": "bold", "fontSize": 17, "color": "#111"},
 "encoding": {"x": {"field": "x", "type": "quantitative", "axis": null}, "y": {"field": "y", "type": "quantitative", "axis": null}, "text": {"field": "label"}}}
]
},
{
"width": 396, "height": 137,
"resolve": {"axis": {"x": "independent", "y": "independent"}},
"layer": [
{"data": {"name": "lb_pts"}, "mark": {"type": "point", "opacity": 0},
 "encoding": {
  "x": {"field": "x", "type": "quantitative", "scale": {"domain": [0, 10], "nice": false, "zero": false},
   "axis": {"orient": "bottom", "values": [0,0.5,1,1.5,2,2.5,3,3.5,4,4.5,5,5.5,6,6.5,7,7.5,8,8.5,9,9.5,10], "labelFlush": false, "labelOverlap": false,
    "labelExpr": "abs(datum.value/2-round(datum.value/2))<0.01 ? format(datum.value,'d') : ''",
    "labelFont": "Liberation Serif", "labelFontSize": 17, "labelPadding": 14,
    "tickSize": {"condition": {"test": "abs(datum.value/2-round(datum.value/2))<0.01", "value": -10}, "value": -5},
    "title": "pT  [GeV/c]", "titleAnchor": "end", "titleFont": "Liberation Serif", "titleFontSize": 22, "titleFontWeight": "normal", "titlePadding": 1}},
  "y": {"field": "v", "type": "quantitative", "scale": {"domain": [0, 1.05], "nice": false, "zero": false},
   "axis": {"orient": "left", "values": [0,0.04,0.08,0.12,0.16,0.2,0.24,0.28,0.32,0.36,0.4,0.44,0.48,0.52,0.56,0.6,0.64,0.68,0.72,0.76,0.8,0.84,0.88,0.92,0.96,1,1.04], "labelOverlap": false,
    "labelExpr": "abs(datum.value*5-round(datum.value*5))<0.01 ? format(datum.value,'.1~f') : ''",
    "labelFont": "Liberation Serif", "labelFontSize": 16, "labelPadding": 9,
    "tickSize": {"condition": {"test": "abs(datum.value*5-round(datum.value*5))<0.01", "value": -10}, "value": -5},
    "title": "fwrd./cent. rapidity", "titleY": 88, "titleFont": "Liberation Serif", "titleFontSize": 20, "titleFontWeight": "normal", "titlePadding": 8}}
 }},
{"data": {"name": "lb_pts"}, "mark": {"type": "point", "opacity": 0},
 "encoding": {
  "x": {"field": "x", "type": "quantitative",
   "axis": {"orient": "top", "values": [0,0.5,1,1.5,2,2.5,3,3.5,4,4.5,5,5.5,6,6.5,7,7.5,8,8.5,9,9.5,10], "labels": false, "title": null,
    "tickSize": {"condition": {"test": "abs(datum.value/2-round(datum.value/2))<0.01", "value": -10}, "value": -5}}},
  "y": {"field": "v", "type": "quantitative",
   "axis": {"orient": "right", "values": [0,0.04,0.08,0.12,0.16,0.2,0.24,0.28,0.32,0.36,0.4,0.44,0.48,0.52,0.56,0.6,0.64,0.68,0.72,0.76,0.8,0.84,0.88,0.92,0.96,1,1.04], "labels": false, "title": null,
    "tickSize": {"condition": {"test": "abs(datum.value*5-round(datum.value*5))<0.01", "value": -10}, "value": -5}}}
 }},
{"data": {"name": "lb_lines"}, "mark": {"type": "line", "clip": true, "strokeWidth": 2},
 "encoding": {"x": {"field": "x", "type": "quantitative", "axis": null}, "y": {"field": "v", "type": "quantitative", "axis": null},
  "stroke": {"field": "k", "type": "nominal", "scale": {"domain": ["csm","cem","nrqcd"], "range": ["#4b3aa8","#2a9a2a","#6b2f1f"]}, "legend": null},
  "strokeDash": {"field": "k", "type": "nominal", "scale": {"domain": ["csm","cem","nrqcd"], "range": [[7,4],[2,3],[1,0]]}, "legend": null}}},
{"data": {"name": "lb_pts"}, "mark": {"type": "rect", "fillOpacity": 0, "stroke": "#444444", "strokeWidth": 1, "clip": true},
 "encoding": {"x": {"field": "xl", "type": "quantitative", "axis": null}, "x2": {"field": "xh"}, "y": {"field": "sl", "type": "quantitative", "axis": null}, "y2": {"field": "sh"}}},
{"data": {"name": "lb_pts"}, "mark": {"type": "rule", "clip": true, "strokeWidth": 1.5, "color": "#111"},
 "encoding": {"x": {"field": "x", "type": "quantitative", "axis": null}, "y": {"field": "el", "type": "quantitative", "axis": null}, "y2": {"field": "eh"}}},
{"data": {"name": "lb_pts"}, "mark": {"type": "point", "filled": true, "opacity": 1, "size": 45, "color": "#000", "shape": "circle", "clip": true},
 "encoding": {"x": {"field": "x", "type": "quantitative", "axis": null}, "y": {"field": "v", "type": "quantitative", "axis": null}}}
]
}
], "spacing": 6, "bounds": "flush",
"resolve": {"scale": {"fill": "independent", "stroke": "independent", "strokeDash": "independent", "shape": "independent", "size": "independent", "color": "independent"}}},
{
"width": 399, "height": 468,
"view": {"stroke": "#111", "strokeWidth": 2},
"resolve": {"axis": {"x": "independent", "y": "independent"}},
"layer": [
{"data": {"name": "r_pts"}, "mark": {"type": "point", "opacity": 0},
 "encoding": {
  "x": {"field": "x", "type": "quantitative", "scale": {"domain": [-0.5, 14], "nice": false, "zero": false},
   "axis": {"orient": "bottom", "values": [-0.4,0,0.4,0.8,1.2,1.6,2,2.4,2.8,3.2,3.6,4,4.4,4.8,5.2,5.6,6,6.4,6.8,7.2,7.6,8,8.4,8.8,9.2,9.6,10,10.4,10.8,11.2,11.6,12,12.4,12.8,13.2,13.6,14], "labelFlush": false, "labelOverlap": false,
    "labelExpr": "abs(datum.value/2-round(datum.value/2))<0.01 ? format(datum.value,'d') : ''",
    "labelFont": "Liberation Sans", "labelFontWeight": "bold", "labelFontSize": 18, "labelPadding": 18,
    "tickSize": {"condition": {"test": "abs(datum.value/2-round(datum.value/2))<0.01", "value": -12}, "value": -6},
    "title": "pT (GeV/c)", "titleAnchor": "end", "titleFont": "Liberation Sans", "titleFontSize": 23, "titleFontWeight": "bold", "titlePadding": 0}},
  "y": {"field": "v", "type": "quantitative", "scale": {"type": "log", "domain": [0.0000001, 7.6], "nice": false},
   "axis": {"orient": "left", "tickCount": 50, "labelOverlap": false, "labelFont": "Liberation Sans", "labelFontWeight": "bold", "labelFontSize": 19, "labelPadding": 8,
    "labelExpr": "abs(log(datum.value)/LN10 - round(log(datum.value)/LN10)) > 0.01 ? '' : ['10⁻⁷','10⁻⁶','10⁻⁵','10⁻⁴','10⁻³','10⁻²','10⁻¹','1','10','10²','10³','10⁴','10⁵','10⁶'][round(log(datum.value)/LN10)+7]",
    "tickSize": {"condition": {"test": "abs(log(datum.value)/LN10 - round(log(datum.value)/LN10)) < 0.01", "value": -12}, "value": -6},
    "title": "Bd²σ/(2πpTdpTdy) [nb/(GeV/c)²]", "titleY": 173, "titleFont": "Liberation Sans", "titleFontSize": 23, "titleFontWeight": "bold", "titlePadding": 4}}
 }},
{"data": {"name": "r_pts"}, "mark": {"type": "point", "opacity": 0},
 "encoding": {
  "x": {"field": "x", "type": "quantitative",
   "axis": {"orient": "top", "values": [-0.4,0,0.4,0.8,1.2,1.6,2,2.4,2.8,3.2,3.6,4,4.4,4.8,5.2,5.6,6,6.4,6.8,7.2,7.6,8,8.4,8.8,9.2,9.6,10,10.4,10.8,11.2,11.6,12,12.4,12.8,13.2,13.6,14], "labels": false, "title": null,
    "tickSize": {"condition": {"test": "abs(datum.value/2-round(datum.value/2))<0.01", "value": -12}, "value": -6}}},
  "y": {"field": "v", "type": "quantitative",
   "axis": {"orient": "right", "tickCount": 50, "labels": false, "title": null,
    "tickSize": {"condition": {"test": "abs(log(datum.value)/LN10 - round(log(datum.value)/LN10)) < 0.01", "value": -12}, "value": -6}}}
 }},
{"data": {"name": "r_band"}, "mark": {"type": "area", "clip": true, "color": "#aaaaaa"},
 "encoding": {"x": {"field": "x", "type": "quantitative", "axis": null}, "y": {"field": "lo", "type": "quantitative", "axis": null}, "y2": {"field": "hi"}}},
{"data": {"name": "r_lines"}, "mark": {"type": "line", "clip": true, "strokeWidth": 1.6},
 "encoding": {"x": {"field": "x", "type": "quantitative", "axis": null}, "y": {"field": "v", "type": "quantitative", "axis": null},
  "stroke": {"field": "k", "type": "nominal", "scale": {"domain": ["cem","direct","prompt","emc","mb","s05","phenix"], "range": ["#2233cc","#111111","#111111","#e31a1a","#1a1a8c","#a03aae","#222222"]}, "legend": null},
  "strokeDash": {"field": "k", "type": "nominal", "scale": {"domain": ["cem","direct","prompt"], "range": [[6,3,1,3],[4,3],[1,0]]}, "legend": null},
  "detail": {"field": "b"}}},
{"data": {"name": "r_pts"}, "transform": [{"filter": "datum.s != 'mb'"}], "mark": {"type": "rect", "fillOpacity": 0, "strokeWidth": 1.3, "clip": true},
 "encoding": {"x": {"field": "xl", "type": "quantitative", "axis": null}, "x2": {"field": "xh"}, "y": {"field": "sl", "type": "quantitative", "axis": null}, "y2": {"field": "sh"},
  "stroke": {"field": "s", "type": "nominal", "legend": null}}},
{"data": {"name": "r_pts"}, "mark": {"type": "rule", "clip": true, "strokeWidth": 1.5},
 "encoding": {"x": {"field": "x", "type": "quantitative", "axis": null}, "y": {"field": "el", "type": "quantitative", "axis": null}, "y2": {"field": "eh"},
  "stroke": {"field": "s", "type": "nominal", "legend": null}}},
{"data": {"name": "r_pts"}, "transform": [{"filter": "datum.s != 'phenix'"}], "mark": {"type": "point", "filled": true, "opacity": 1, "clip": true},
 "encoding": {"x": {"field": "x", "type": "quantitative", "axis": null}, "y": {"field": "v", "type": "quantitative", "axis": null},
  "fill": {"field": "s", "type": "nominal", "scale": {"domain": ["emc","mb","s05","phenix"], "range": ["#e31a1a","#1a1a8c","#9a1a9e","#ffffff"]}, "legend": null},
  "shape": {"field": "s", "type": "nominal", "scale": {"domain": ["emc","mb","s05","phenix"], "range": ["circle","triangle-down","square","circle"]}, "legend": null},
  "size": {"field": "s", "type": "nominal", "scale": {"domain": ["emc","mb","s05","phenix"], "range": [130, 90, 80, 45]}, "legend": null}}},
{"data": {"name": "r_leg"}, "mark": {"type": "point", "filled": true, "opacity": 1, "strokeWidth": 1},
 "encoding": {"x": {"field": "mx", "type": "quantitative", "axis": null}, "y": {"field": "y", "type": "quantitative", "axis": null},
  "fill": {"field": "k", "type": "nominal", "legend": null}, "shape": {"field": "k", "type": "nominal", "legend": null},
  "size": {"field": "k", "type": "nominal", "legend": null}, "stroke": {"field": "k", "type": "nominal", "legend": null}}},
{"data": {"name": "r_leg"}, "mark": {"type": "text", "align": "left", "baseline": "middle", "font": "Liberation Sans", "fontSize": 19, "color": "#111"},
 "encoding": {"x": {"field": "tx", "type": "quantitative", "axis": null}, "y": {"field": "y", "type": "quantitative", "axis": null}, "text": {"field": "label"}}},
{"data": {"name": "r_leg2"}, "transform": [{"filter": "datum.k == 'nnlo'"}], "mark": {"type": "rect", "color": "#aaaaaa", "stroke": "#666666", "strokeWidth": 1},
 "encoding": {"x": {"field": "x1", "type": "quantitative", "axis": null}, "x2": {"field": "x2"}, "y": {"field": "yl", "type": "quantitative", "axis": null}, "y2": {"field": "yh"}}},
{"data": {"name": "r_leg2"}, "transform": [{"filter": "datum.k != 'nnlo'"}], "mark": {"type": "rule", "strokeWidth": 1.6},
 "encoding": {"x": {"field": "x1", "type": "quantitative", "axis": null}, "x2": {"field": "x2"}, "y": {"field": "y", "type": "quantitative", "axis": null},
  "stroke": {"field": "k", "type": "nominal", "legend": null}, "strokeDash": {"field": "k", "type": "nominal", "legend": null}}},
{"data": {"name": "r_leg2"}, "mark": {"type": "text", "align": "left", "baseline": "middle", "font": "Liberation Sans", "fontSize": 20, "color": "#111"},
 "encoding": {"x": {"field": "tx", "type": "quantitative", "axis": null}, "y": {"field": "y", "type": "quantitative", "axis": null}, "text": {"field": "label"}}},
{"data": {"name": "r_txt"}, "transform": [{"filter": "datum.t == 'head'"}], "mark": {"type": "text", "align": "right", "baseline": "middle", "font": "Liberation Sans", "fontSize": 20, "color": "#111"},
 "encoding": {"x": {"field": "x", "type": "quantitative", "axis": null}, "y": {"field": "y", "type": "quantitative", "axis": null}, "text": {"field": "label"}}},
{"data": {"name": "r_txt"}, "transform": [{"filter": "datum.t == 'prelim'"}], "mark": {"type": "text", "align": "right", "baseline": "middle", "font": "Liberation Serif", "fontStyle": "italic", "fontSize": 22, "color": "#222"},
 "encoding": {"x": {"field": "x", "type": "quantitative", "axis": null}, "y": {"field": "y", "type": "quantitative", "axis": null}, "text": {"field": "label"}}}
]
}
],
"spacing": 42,
"resolve": {"scale": {"fill": "independent", "stroke": "independent", "strokeDash": "independent", "shape": "independent", "size": "independent", "color": "independent"}},
"config": {
 "view": {"stroke": "#222", "strokeWidth": 1.2},
 "axis": {"grid": false, "domain": false, "tickColor": "#222", "labelColor": "#111", "titleColor": "#111"},
 "font": "Liberation Serif"
}
}
